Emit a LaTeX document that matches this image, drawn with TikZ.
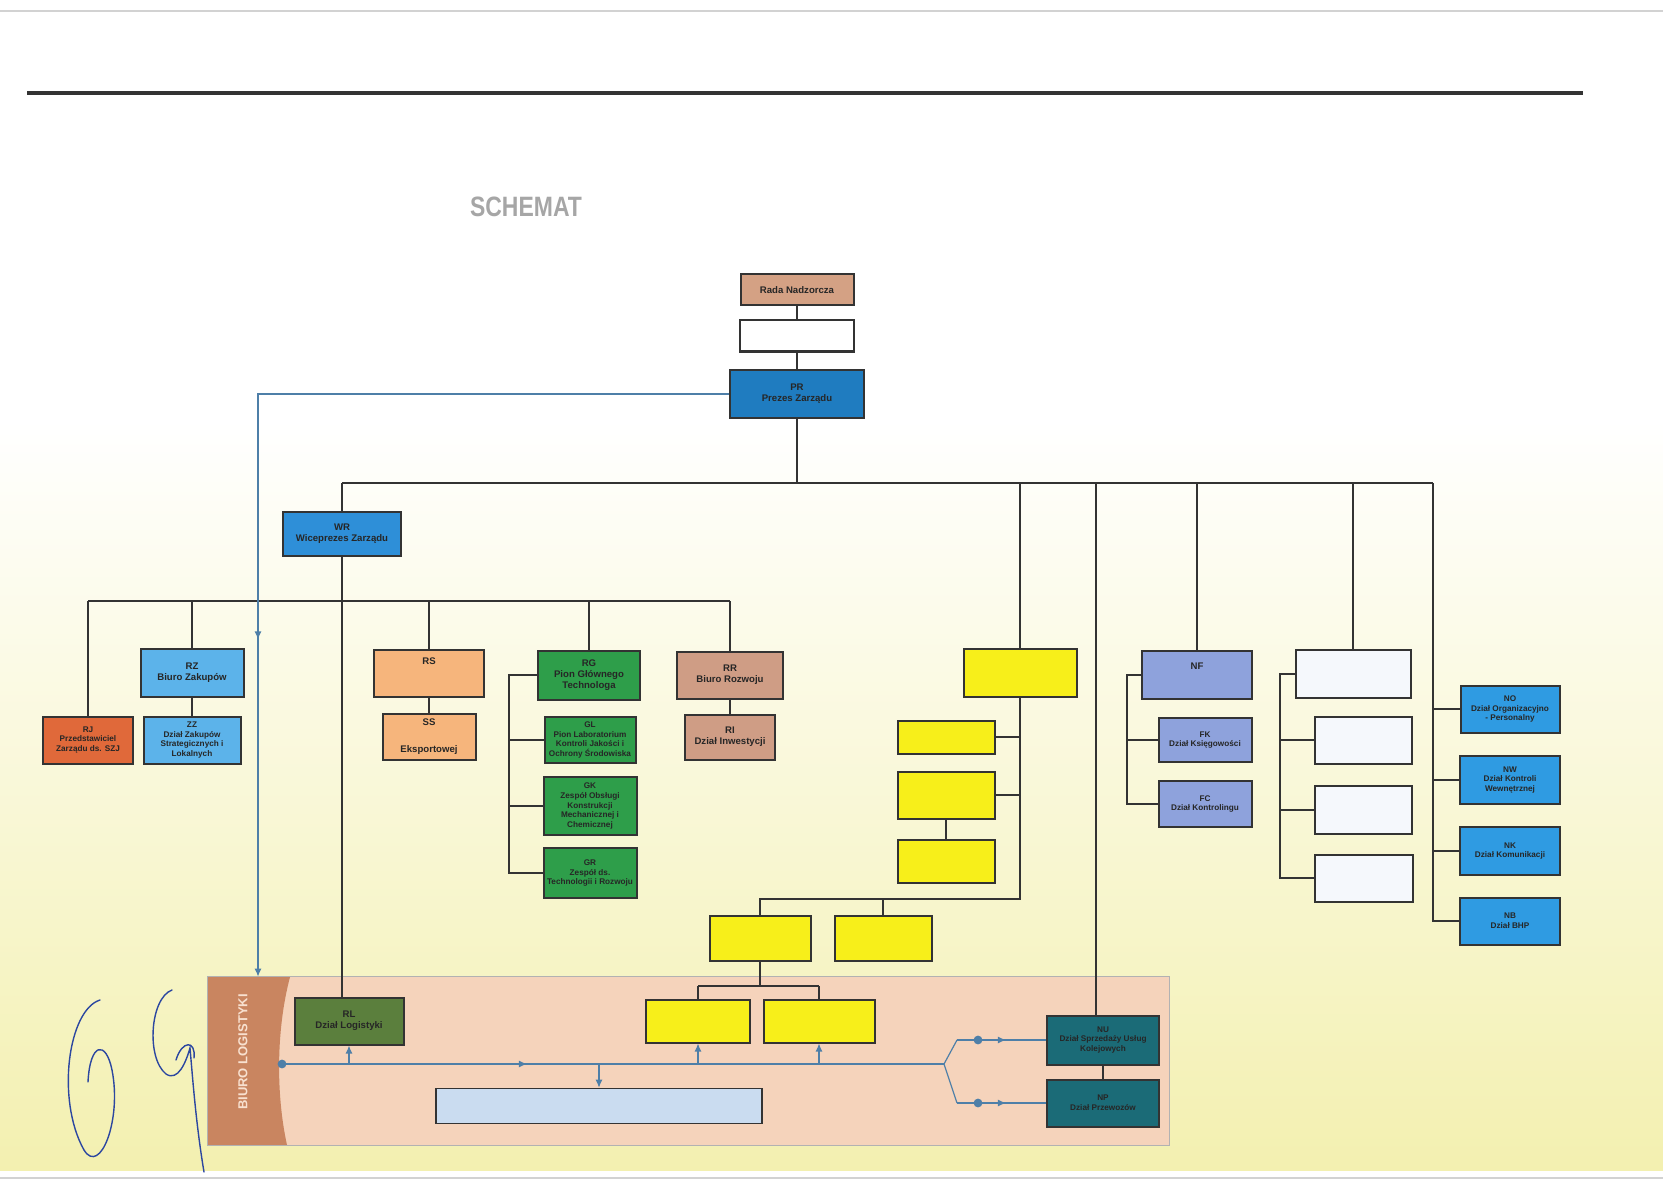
\documentclass[tikz,border=0pt]{standalone}
\usepackage{fontspec}
\setmainfont{Liberation Sans}
\usetikzlibrary{arrows.meta,decorations.markings}
\definecolor{linec}{HTML}{333333}
\definecolor{cRada}{HTML}{D4A184}
\definecolor{cPR}{HTML}{1F7CC0}
\definecolor{cWR}{HTML}{2E8FD8}
\definecolor{cRJ}{HTML}{E0693A}
\definecolor{cRZ}{HTML}{5CB3EA}
\definecolor{cRS}{HTML}{F6B57C}
\definecolor{cRG}{HTML}{2E9E4A}
\definecolor{cRR}{HTML}{CF9D85}
\definecolor{cY}{HTML}{F7EF1A}
\definecolor{cNF}{HTML}{8EA2DC}
\definecolor{cW}{HTML}{F5F8FC}
\definecolor{cNO}{HTML}{2F9BE2}
\definecolor{cRL}{HTML}{5B7F3D}
\definecolor{cNU}{HTML}{1B6B77}
\definecolor{cLOG}{HTML}{F5D3BB}
\definecolor{cBand}{HTML}{C98560}
\definecolor{cLB}{HTML}{CADCF0}
\definecolor{cBlu}{HTML}{4E7FA8}
\definecolor{cBgY}{HTML}{F3F0B0}
\definecolor{cInk}{HTML}{2C47A0}
\newcommand\orgbox[7]{\node[orgnode,fill=#6,minimum width=#4*0.5pt,minimum height=#5*0.5pt] (#1) at (#2,#3) {#7};}
\newcommand\orgboxs[7]{\node[orgnode,smallfont,fill=#6,minimum width=#4*0.5pt,minimum height=#5*0.5pt] (#1) at (#2,#3) {#7};}
\begin{document}
\begin{tikzpicture}[x=0.5pt,y=-0.5pt,
  orgnode/.style={draw=linec,line width=1pt,align=center,inner sep=1pt,
    text=black!85,font=\bfseries\fontsize{4.8}{5.6}\selectfont},
  smallfont/.style={font=\bfseries\fontsize{4.1}{4.8}\selectfont},
  conn/.style={draw=linec,line width=1pt},
  blu/.style={draw=cBlu,line width=0.6pt},
  midarrow/.style={postaction={decorate},decoration={markings,
    mark=at position #1 with {\arrow{Latex[length=4pt,width=3.5pt]}}}},
  tip/.style={-{Latex[length=4pt,width=3.5pt]}}
]
\useasboundingbox (0,0) rectangle (1663,1192);
\fill[white] (0,0) rectangle (1663,1192);
\shade[top color=white,bottom color=cBgY] (0,420) rectangle (1663,1170);
\draw[gray!35,line width=1pt] (0,11) -- (1663,11);
\draw[gray!35,line width=1pt] (0,1178) -- (1663,1178);
\draw[linec,line width=1.6pt] (27,93) -- (1583,93);
\node[text=black!35,font=\bfseries\fontsize{14}{14}\selectfont,xscale=0.82] (title) at (526,207) {SCHEMAT};

% Biuro Logistyki region
\node[fill=cLOG,minimum width=961*0.5pt,minimum height=168*0.5pt,inner sep=0pt] (LOG) at (688.5,1061) {};
\fill[cBand] (208,977) -- (290,977) .. controls (276,1030) and (276,1095) .. (287,1145) -- (208,1145) -- cycle;
\draw[gray!60,line width=0.6pt] (LOG.north west) rectangle (LOG.south east);
\node[rotate=90,text=cLOG!70!white,font=\bfseries\fontsize{6.5}{7}\selectfont] (logt) at (243,1052) {BIURO LOGISTYKI};

% top boxes
\orgbox{Rada}{797}{290}{113}{31}{cRada}{Rada Nadzorcza}
\orgbox{Blank}{797}{336}{114}{31}{white}{}
\orgbox{PR}{797}{394}{134}{48}{cPR}{PR\\Prezes Zarządu}
\orgbox{WR}{342}{534}{118}{44}{cWR}{WR\\Wiceprezes Zarządu}
% level 2 left
\orgboxs{RJ}{88}{740}{90}{47}{cRJ}{RJ\\Przedstawiciel\\Zarządu ds. SZJ}
\orgbox{RZ}{192}{673}{103}{48}{cRZ}{RZ\\Biuro Zakupów}
\orgboxs{ZZ}{192}{740}{97}{47}{cRZ}{ZZ\\Dział Zakupów\\Strategicznych i\\Lokalnych}
\orgbox{RS}{429}{673}{110}{47}{cRS}{RS\\[6pt]\mbox{}}
\orgbox{SS}{429}{737}{93}{46}{cRS}{SS\\[8pt]Eksportowej}
\orgbox{RG}{589}{675}{102}{49}{cRG}{RG\\Pion Głównego\\Technologa}
\orgboxs{GL}{590}{740}{91}{46}{cRG}{GL\\Pion Laboratorium\\Kontroli Jakości i\\Ochrony Środowiska}
\orgboxs{GK}{590}{806}{93}{58}{cRG}{GK\\Zespół Obsługi\\Konstrukcji\\Mechanicznej i\\Chemicznej}
\orgboxs{GR}{590}{873}{93}{50}{cRG}{GR\\Zespół ds.\\Technologii i Rozwoju}
\orgbox{RR}{730}{675}{106}{47}{cRR}{RR\\Biuro Rozwoju}
\orgbox{RI}{730}{737}{90}{45}{cRR}{RI\\Dział Inwestycji}
% yellow
\orgbox{Y0}{1020}{673}{113}{48}{cY}{}
\orgbox{Y1}{946}{737}{97}{33}{cY}{}
\orgbox{Y2}{946}{795}{97}{47}{cY}{}
\orgbox{Y3}{946}{861}{97}{43}{cY}{}
\orgbox{YA}{760}{938}{101}{45}{cY}{}
\orgbox{YB}{883}{938}{97}{45}{cY}{}
\orgbox{YC}{698}{1021}{104}{43}{cY}{}
\orgbox{YD}{819}{1021}{111}{43}{cY}{}
% finance
\orgbox{NF}{1197}{675}{110}{48}{cNF}{NF\\[3pt]\mbox{}}
\orgboxs{FK}{1205}{740}{93}{44}{cNF}{FK\\Dział Księgowości}
\orgboxs{FC}{1205}{804}{93}{46}{cNF}{FC\\Dział Kontrolingu}
% white group
\orgbox{W0}{1353}{674}{115}{48}{cW}{}
\orgbox{W1}{1363}{740}{97}{47}{cW}{}
\orgbox{W2}{1363}{810}{97}{48}{cW}{}
\orgbox{W3}{1364}{878}{98}{47}{cW}{}
% right column
\orgboxs{NO}{1510}{709}{99}{47}{cNO}{NO\\Dział Organizacyjno\\- Personalny}
\orgboxs{NW}{1510}{780}{100}{48}{cNO}{NW\\Dział Kontroli\\Wewnętrznej}
\orgboxs{NK}{1510}{851}{100}{48}{cNO}{NK\\Dział Komunikacji}
\orgboxs{NB}{1510}{921}{100}{47}{cNO}{NB\\Dział BHP}
% logistics boxes
\orgbox{RL}{349}{1021}{109}{47}{cRL}{RL\\Dział Logistyki}
\node[draw=linec,line width=0.8pt,fill=cLB,minimum width=326*0.5pt,minimum height=35*0.5pt,inner sep=0pt] (LB) at (599,1106) {};
\orgboxs{NU}{1103}{1040}{112}{49}{cNU}{NU\\Dział Sprzedaży Usług\\Kolejowych}
\orgboxs{NP}{1103}{1103}{112}{47}{cNU}{NP\\Dział Przewozów}

% helper coordinates
\coordinate (busA) at (0,483);
\coordinate (busB) at (0,601);
\coordinate (colU) at (1096,0);
\coordinate (colN) at (1433,0);
\coordinate (gx) at (509,0);
\coordinate (fx) at (1127,0);
\coordinate (wx) at (1280,0);
\coordinate (ybus) at (0,899);
\coordinate (ycbus) at (0,986);
\coordinate (bx) at (258,0);

% connectors
\draw[conn] (Rada.south) -- (Blank.north);
\draw[conn] (Blank.south) -- (PR.north);
\draw[conn] (PR.south) -- (PR.south |- busA);
\draw[conn] (WR.north |- busA) -- (colN |- busA);
\draw[conn] (WR.north |- busA) -- (WR.north);
\draw[conn] (Y0.north |- busA) -- (Y0.north);
\draw[conn] (colU |- busA) -- (colU |- NU.north);
\draw[conn] (NF.north |- busA) -- (NF.north);
\draw[conn] (W0.north |- busA) -- (W0.north);
\draw[conn] (colN |- busA) -- (colN |- NB.west) -- (NB.west);
\draw[conn] (colN |- NO.west) -- (NO.west);
\draw[conn] (colN |- NW.west) -- (NW.west);
\draw[conn] (colN |- NK.west) -- (NK.west);
\draw[conn] (WR.south) -- (WR.south |- RL.north);
\draw[conn] (RJ.north |- busB) -- (RR.north |- busB);
\draw[conn] (RJ.north |- busB) -- (RJ.north);
\draw[conn] (RZ.north |- busB) -- (RZ.north);
\draw[conn] (RS.north |- busB) -- (RS.north);
\draw[conn] (RG.north |- busB) -- (RG.north);
\draw[conn] (RR.north |- busB) -- (RR.north);
\draw[conn] (RZ.south) -- (ZZ.north);
\draw[conn] (RS.south) -- (SS.north);
\draw[conn] (RR.south) -- (RI.north);
\draw[conn] (RG.west) -- (gx |- RG.west) -- (gx |- GR.west) -- (GR.west);
\draw[conn] (gx |- GL.west) -- (GL.west);
\draw[conn] (gx |- GK.west) -- (GK.west);
\draw[conn] (NF.west) -- (fx |- NF.west) -- (fx |- FC.west) -- (FC.west);
\draw[conn] (fx |- FK.west) -- (FK.west);
\draw[conn] (W0.west) -- (wx |- W0.west) -- (wx |- W3.west) -- (W3.west);
\draw[conn] (wx |- W1.west) -- (W1.west);
\draw[conn] (wx |- W2.west) -- (W2.west);
\draw[conn] (Y0.south) -- (Y0.south |- ybus) -- (YA.north |- ybus) -- (YA.north);
\draw[conn] (YB.north |- ybus) -- (YB.north);
\draw[conn] (Y1.east) -- (Y0.south |- Y1.east);
\draw[conn] (Y2.east) -- (Y0.south |- Y2.east);
\draw[conn] (Y2.south) -- (Y3.north);
\draw[conn] (YA.south) -- (YA.south |- ycbus);
\draw[conn] (YC.north |- ycbus) -- (YD.north |- ycbus);
\draw[conn] (YC.north |- ycbus) -- (YC.north);
\draw[conn] (YD.north |- ycbus) -- (YD.north);
\draw[conn] (NU.south) -- (NP.north);

% blue flow lines
\draw[blu,midarrow=0.68,tip] (PR.west) -- (bx |- PR.west) -- (bx |- LOG.north);
\coordinate (ld) at (282,1064);
\coordinate (fork) at (944,1064);
\coordinate (fu) at (957,1040);
\coordinate (fd) at (957,1103);
\fill[cBlu] (ld) circle (2.2pt);
\draw[blu,midarrow=0.37] (ld) -- (fork);
\draw[blu,tip] (RL.south |- ld) -- (RL.south);
\draw[blu,tip] (YC.south |- ld) -- (YC.south);
\draw[blu,tip] (YD.south |- ld) -- (YD.south);
\draw[blu,tip] (LB.north |- ld) -- (LB.north);
\draw[blu] (fork) -- (fu);
\draw[blu] (fork) -- (fd);
\draw[blu,midarrow=0.55] (fu) -- (NU.west);
\draw[blu,midarrow=0.55] (fd) -- (NP.west);
\fill[cBlu] (978,1040) circle (2.2pt);
\fill[cBlu] (978,1103) circle (2.2pt);

% signatures
\draw[cInk,line width=0.7pt,line cap=round] (100,1000) .. controls (68,1010) and (56,1100) .. (84,1150) .. controls (100,1176) and (122,1120) .. (112,1070) .. controls (106,1040) and (90,1042) .. (88,1082);
\draw[cInk,line width=0.7pt,line cap=round] (172,990) .. controls (150,998) and (146,1058) .. (166,1074) .. controls (178,1082) and (186,1062) .. (190,1048) .. controls (193,1082) and (196,1124) .. (204,1172);
\draw[cInk,line width=0.7pt,line cap=round] (176,1060) .. controls (182,1040) and (196,1040) .. (194,1058);
\end{tikzpicture}
\end{document}
